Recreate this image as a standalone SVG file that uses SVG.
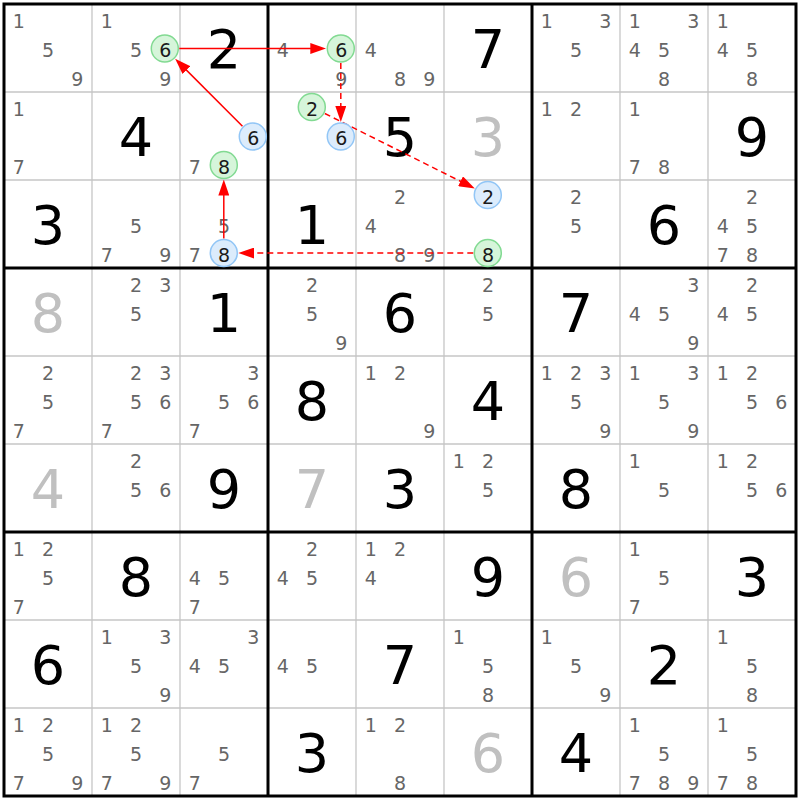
<svg xmlns="http://www.w3.org/2000/svg" width="800" height="800" viewBox="0 0 800 800">
<style>
text{font-family:"DejaVu Sans","Verdana",sans-serif;text-anchor:middle}
.c{font-size:19px;fill:#666}
.k{font-size:19px;fill:#1a1a1a}
.g{font-size:54px;fill:#000}
.s{font-size:54px;fill:#c0c0c0}
.thin{stroke:#c6c6c6;stroke-width:1.3}
.thick{stroke:#000;stroke-width:3}
.gr{fill:#d6f5da;stroke:#82da92;stroke-width:1.5}
.bl{fill:#dcecfc;stroke:#92c6f6;stroke-width:1.5}
.ln{stroke:#ff0000;stroke-width:1.5;fill:none;marker-end:url(#ah)}
.d{stroke-dasharray:6 4}
</style>
<defs>
<marker id="ah" markerUnits="userSpaceOnUse" markerWidth="16" markerHeight="11" viewBox="0 0 16 11" refX="6" refY="5.5" orient="auto">
<path d="M0,0 L16,5.5 L0,11 z" fill="#ff0000"/>
</marker>
</defs>
<rect x="0" y="0" width="800" height="800" fill="#fff"/>
<g id="grid">
<path class="thin" d="M92,4V796M180,4V796M356,4V796M444,4V796M620,4V796M708,4V796M4,92H796M4,180H796M4,356H796M4,444H796M4,620H796M4,708H796"/>
<path class="thick" d="M268,4V796M532,4V796M4,268H796M4,532H796"/>
<rect x="4" y="4" width="792" height="792" fill="none" stroke="#000" stroke-width="3"/>
</g>
<!-- Row 0 -->
<g id="r0c0" transform="translate(4,4)"><text class="c" x="14.7" y="23.5">1</text><text class="c" x="44" y="52.8">5</text><text class="c" x="73.3" y="82">9</text></g>
<g id="r0c1" transform="translate(92,4)"><text class="c" x="14.7" y="23.5">1</text><text class="c" x="44" y="52.8">5</text><text class="c" x="73.3" y="82">9</text></g>
<g id="r0c2" transform="translate(180,4)"><text class="g" x="44" y="64.4">2</text></g>
<g id="r0c3" transform="translate(268,4)"><text class="c" x="14.7" y="52.8">4</text><text class="c" x="73.3" y="82">9</text></g>
<g id="r0c4" transform="translate(356,4)"><text class="c" x="14.7" y="52.8">4</text><text class="c" x="44" y="82">8</text><text class="c" x="73.3" y="82">9</text></g>
<g id="r0c5" transform="translate(444,4)"><text class="g" x="44" y="64.4">7</text></g>
<g id="r0c6" transform="translate(532,4)"><text class="c" x="14.7" y="23.5">1</text><text class="c" x="73.3" y="23.5">3</text><text class="c" x="44" y="52.8">5</text></g>
<g id="r0c7" transform="translate(620,4)"><text class="c" x="14.7" y="23.5">1</text><text class="c" x="73.3" y="23.5">3</text><text class="c" x="14.7" y="52.8">4</text><text class="c" x="44" y="52.8">5</text><text class="c" x="44" y="82">8</text></g>
<g id="r0c8" transform="translate(708,4)"><text class="c" x="14.7" y="23.5">1</text><text class="c" x="14.7" y="52.8">4</text><text class="c" x="44" y="52.8">5</text><text class="c" x="44" y="82">8</text></g>
<!-- Row 1 -->
<g id="r1c0" transform="translate(4,92)"><text class="c" x="14.7" y="23.5">1</text><text class="c" x="14.7" y="82">7</text></g>
<g id="r1c1" transform="translate(92,92)"><text class="g" x="44" y="64.4">4</text></g>
<g id="r1c2" transform="translate(180,92)"><text class="c" x="14.7" y="82">7</text></g>
<g id="r1c3" transform="translate(268,92)"></g>
<g id="r1c4" transform="translate(356,92)"><text class="g" x="44" y="64.4">5</text></g>
<g id="r1c5" transform="translate(444,92)"><text class="s" x="44" y="64.4">3</text></g>
<g id="r1c6" transform="translate(532,92)"><text class="c" x="14.7" y="23.5">1</text><text class="c" x="44" y="23.5">2</text></g>
<g id="r1c7" transform="translate(620,92)"><text class="c" x="14.7" y="23.5">1</text><text class="c" x="14.7" y="82">7</text><text class="c" x="44" y="82">8</text></g>
<g id="r1c8" transform="translate(708,92)"><text class="g" x="44" y="64.4">9</text></g>
<!-- Row 2 -->
<g id="r2c0" transform="translate(4,180)"><text class="g" x="44" y="64.4">3</text></g>
<g id="r2c1" transform="translate(92,180)"><text class="c" x="44" y="52.8">5</text><text class="c" x="14.7" y="82">7</text><text class="c" x="73.3" y="82">9</text></g>
<g id="r2c2" transform="translate(180,180)"><text class="c" x="44" y="52.8">5</text><text class="c" x="14.7" y="82">7</text></g>
<g id="r2c3" transform="translate(268,180)"><text class="g" x="44" y="64.4">1</text></g>
<g id="r2c4" transform="translate(356,180)"><text class="c" x="44" y="23.5">2</text><text class="c" x="14.7" y="52.8">4</text><text class="c" x="44" y="82">8</text><text class="c" x="73.3" y="82">9</text></g>
<g id="r2c5" transform="translate(444,180)"></g>
<g id="r2c6" transform="translate(532,180)"><text class="c" x="44" y="23.5">2</text><text class="c" x="44" y="52.8">5</text></g>
<g id="r2c7" transform="translate(620,180)"><text class="g" x="44" y="64.4">6</text></g>
<g id="r2c8" transform="translate(708,180)"><text class="c" x="44" y="23.5">2</text><text class="c" x="14.7" y="52.8">4</text><text class="c" x="44" y="52.8">5</text><text class="c" x="14.7" y="82">7</text><text class="c" x="44" y="82">8</text></g>
<!-- Row 3 -->
<g id="r3c0" transform="translate(4,268)"><text class="s" x="44" y="64.4">8</text></g>
<g id="r3c1" transform="translate(92,268)"><text class="c" x="44" y="23.5">2</text><text class="c" x="73.3" y="23.5">3</text><text class="c" x="44" y="52.8">5</text></g>
<g id="r3c2" transform="translate(180,268)"><text class="g" x="44" y="64.4">1</text></g>
<g id="r3c3" transform="translate(268,268)"><text class="c" x="44" y="23.5">2</text><text class="c" x="44" y="52.8">5</text><text class="c" x="73.3" y="82">9</text></g>
<g id="r3c4" transform="translate(356,268)"><text class="g" x="44" y="64.4">6</text></g>
<g id="r3c5" transform="translate(444,268)"><text class="c" x="44" y="23.5">2</text><text class="c" x="44" y="52.8">5</text></g>
<g id="r3c6" transform="translate(532,268)"><text class="g" x="44" y="64.4">7</text></g>
<g id="r3c7" transform="translate(620,268)"><text class="c" x="73.3" y="23.5">3</text><text class="c" x="14.7" y="52.8">4</text><text class="c" x="44" y="52.8">5</text><text class="c" x="73.3" y="82">9</text></g>
<g id="r3c8" transform="translate(708,268)"><text class="c" x="44" y="23.5">2</text><text class="c" x="14.7" y="52.8">4</text><text class="c" x="44" y="52.8">5</text></g>
<!-- Row 4 -->
<g id="r4c0" transform="translate(4,356)"><text class="c" x="44" y="23.5">2</text><text class="c" x="44" y="52.8">5</text><text class="c" x="14.7" y="82">7</text></g>
<g id="r4c1" transform="translate(92,356)"><text class="c" x="44" y="23.5">2</text><text class="c" x="73.3" y="23.5">3</text><text class="c" x="44" y="52.8">5</text><text class="c" x="73.3" y="52.8">6</text><text class="c" x="14.7" y="82">7</text></g>
<g id="r4c2" transform="translate(180,356)"><text class="c" x="73.3" y="23.5">3</text><text class="c" x="44" y="52.8">5</text><text class="c" x="73.3" y="52.8">6</text><text class="c" x="14.7" y="82">7</text></g>
<g id="r4c3" transform="translate(268,356)"><text class="g" x="44" y="64.4">8</text></g>
<g id="r4c4" transform="translate(356,356)"><text class="c" x="14.7" y="23.5">1</text><text class="c" x="44" y="23.5">2</text><text class="c" x="73.3" y="82">9</text></g>
<g id="r4c5" transform="translate(444,356)"><text class="g" x="44" y="64.4">4</text></g>
<g id="r4c6" transform="translate(532,356)"><text class="c" x="14.7" y="23.5">1</text><text class="c" x="44" y="23.5">2</text><text class="c" x="73.3" y="23.5">3</text><text class="c" x="44" y="52.8">5</text><text class="c" x="73.3" y="82">9</text></g>
<g id="r4c7" transform="translate(620,356)"><text class="c" x="14.7" y="23.5">1</text><text class="c" x="73.3" y="23.5">3</text><text class="c" x="44" y="52.8">5</text><text class="c" x="73.3" y="82">9</text></g>
<g id="r4c8" transform="translate(708,356)"><text class="c" x="14.7" y="23.5">1</text><text class="c" x="44" y="23.5">2</text><text class="c" x="44" y="52.8">5</text><text class="c" x="73.3" y="52.8">6</text></g>
<!-- Row 5 -->
<g id="r5c0" transform="translate(4,444)"><text class="s" x="44" y="64.4">4</text></g>
<g id="r5c1" transform="translate(92,444)"><text class="c" x="44" y="23.5">2</text><text class="c" x="44" y="52.8">5</text><text class="c" x="73.3" y="52.8">6</text></g>
<g id="r5c2" transform="translate(180,444)"><text class="g" x="44" y="64.4">9</text></g>
<g id="r5c3" transform="translate(268,444)"><text class="s" x="44" y="64.4">7</text></g>
<g id="r5c4" transform="translate(356,444)"><text class="g" x="44" y="64.4">3</text></g>
<g id="r5c5" transform="translate(444,444)"><text class="c" x="14.7" y="23.5">1</text><text class="c" x="44" y="23.5">2</text><text class="c" x="44" y="52.8">5</text></g>
<g id="r5c6" transform="translate(532,444)"><text class="g" x="44" y="64.4">8</text></g>
<g id="r5c7" transform="translate(620,444)"><text class="c" x="14.7" y="23.5">1</text><text class="c" x="44" y="52.8">5</text></g>
<g id="r5c8" transform="translate(708,444)"><text class="c" x="14.7" y="23.5">1</text><text class="c" x="44" y="23.5">2</text><text class="c" x="44" y="52.8">5</text><text class="c" x="73.3" y="52.8">6</text></g>
<!-- Row 6 -->
<g id="r6c0" transform="translate(4,532)"><text class="c" x="14.7" y="23.5">1</text><text class="c" x="44" y="23.5">2</text><text class="c" x="44" y="52.8">5</text><text class="c" x="14.7" y="82">7</text></g>
<g id="r6c1" transform="translate(92,532)"><text class="g" x="44" y="64.4">8</text></g>
<g id="r6c2" transform="translate(180,532)"><text class="c" x="14.7" y="52.8">4</text><text class="c" x="44" y="52.8">5</text><text class="c" x="14.7" y="82">7</text></g>
<g id="r6c3" transform="translate(268,532)"><text class="c" x="44" y="23.5">2</text><text class="c" x="14.7" y="52.8">4</text><text class="c" x="44" y="52.8">5</text></g>
<g id="r6c4" transform="translate(356,532)"><text class="c" x="14.7" y="23.5">1</text><text class="c" x="44" y="23.5">2</text><text class="c" x="14.7" y="52.8">4</text></g>
<g id="r6c5" transform="translate(444,532)"><text class="g" x="44" y="64.4">9</text></g>
<g id="r6c6" transform="translate(532,532)"><text class="s" x="44" y="64.4">6</text></g>
<g id="r6c7" transform="translate(620,532)"><text class="c" x="14.7" y="23.5">1</text><text class="c" x="44" y="52.8">5</text><text class="c" x="14.7" y="82">7</text></g>
<g id="r6c8" transform="translate(708,532)"><text class="g" x="44" y="64.4">3</text></g>
<!-- Row 7 -->
<g id="r7c0" transform="translate(4,620)"><text class="g" x="44" y="64.4">6</text></g>
<g id="r7c1" transform="translate(92,620)"><text class="c" x="14.7" y="23.5">1</text><text class="c" x="73.3" y="23.5">3</text><text class="c" x="44" y="52.8">5</text><text class="c" x="73.3" y="82">9</text></g>
<g id="r7c2" transform="translate(180,620)"><text class="c" x="73.3" y="23.5">3</text><text class="c" x="14.7" y="52.8">4</text><text class="c" x="44" y="52.8">5</text></g>
<g id="r7c3" transform="translate(268,620)"><text class="c" x="14.7" y="52.8">4</text><text class="c" x="44" y="52.8">5</text></g>
<g id="r7c4" transform="translate(356,620)"><text class="g" x="44" y="64.4">7</text></g>
<g id="r7c5" transform="translate(444,620)"><text class="c" x="14.7" y="23.5">1</text><text class="c" x="44" y="52.8">5</text><text class="c" x="44" y="82">8</text></g>
<g id="r7c6" transform="translate(532,620)"><text class="c" x="14.7" y="23.5">1</text><text class="c" x="44" y="52.8">5</text><text class="c" x="73.3" y="82">9</text></g>
<g id="r7c7" transform="translate(620,620)"><text class="g" x="44" y="64.4">2</text></g>
<g id="r7c8" transform="translate(708,620)"><text class="c" x="14.7" y="23.5">1</text><text class="c" x="44" y="52.8">5</text><text class="c" x="44" y="82">8</text></g>
<!-- Row 8 -->
<g id="r8c0" transform="translate(4,708)"><text class="c" x="14.7" y="23.5">1</text><text class="c" x="44" y="23.5">2</text><text class="c" x="44" y="52.8">5</text><text class="c" x="14.7" y="82">7</text><text class="c" x="73.3" y="82">9</text></g>
<g id="r8c1" transform="translate(92,708)"><text class="c" x="14.7" y="23.5">1</text><text class="c" x="44" y="23.5">2</text><text class="c" x="44" y="52.8">5</text><text class="c" x="14.7" y="82">7</text><text class="c" x="73.3" y="82">9</text></g>
<g id="r8c2" transform="translate(180,708)"><text class="c" x="44" y="52.8">5</text><text class="c" x="14.7" y="82">7</text></g>
<g id="r8c3" transform="translate(268,708)"><text class="g" x="44" y="64.4">3</text></g>
<g id="r8c4" transform="translate(356,708)"><text class="c" x="14.7" y="23.5">1</text><text class="c" x="44" y="23.5">2</text><text class="c" x="44" y="82">8</text></g>
<g id="r8c5" transform="translate(444,708)"><text class="s" x="44" y="64.4">6</text></g>
<g id="r8c6" transform="translate(532,708)"><text class="g" x="44" y="64.4">4</text></g>
<g id="r8c7" transform="translate(620,708)"><text class="c" x="14.7" y="23.5">1</text><text class="c" x="44" y="52.8">5</text><text class="c" x="14.7" y="82">7</text><text class="c" x="44" y="82">8</text><text class="c" x="73.3" y="82">9</text></g>
<g id="r8c8" transform="translate(708,708)"><text class="c" x="14.7" y="23.5">1</text><text class="c" x="44" y="52.8">5</text><text class="c" x="14.7" y="82">7</text><text class="c" x="44" y="82">8</text></g>
<!-- Connectors -->
<g id="connectors">
<path class="ln" d="M179.3,48.5 L316.3,48.5"/>
<path class="ln d" d="M340.8,63 L340.8,112"/>
<path class="ln d" d="M324.8,113.5 L465.9,184"/>
<path class="ln d" d="M473.3,253 L248.3,253"/>
<path class="ln" d="M223.8,238.5 L223.8,189.5"/>
<path class="ln" d="M242.5,126.2 L182.2,65.9"/>
</g>
<!-- Highlighted candidates -->
<g id="n-r0c1-6"><circle class="gr" cx="164.8" cy="48.5" r="13.5"/><text class="k" x="165.3" y="56.8">6</text></g>
<g id="n-r0c3-6"><circle class="gr" cx="340.8" cy="48.5" r="13.5"/><text class="k" x="341.3" y="56.8">6</text></g>
<g id="n-r1c3-6"><circle class="bl" cx="340.8" cy="136.5" r="13.5"/><text class="k" x="341.3" y="144.8">6</text></g>
<g id="n-r1c3-2"><circle class="gr" cx="311.8" cy="107" r="13.5"/><text class="k" x="312" y="115.5">2</text></g>
<g id="n-r2c5-2"><circle class="bl" cx="487.8" cy="195" r="13.5"/><text class="k" x="488" y="203.5">2</text></g>
<g id="n-r2c5-8"><circle class="gr" cx="487.8" cy="253" r="13.5"/><text class="k" x="488" y="262">8</text></g>
<g id="n-r2c2-8"><circle class="bl" cx="223.8" cy="253" r="13.5"/><text class="k" x="224" y="262">8</text></g>
<g id="n-r1c2-8"><circle class="gr" cx="223.8" cy="165" r="13.5"/><text class="k" x="224" y="174">8</text></g>
<g id="n-r1c2-6"><circle class="bl" cx="252.8" cy="136.5" r="13.5"/><text class="k" x="253.3" y="144.8">6</text></g>
</svg>
